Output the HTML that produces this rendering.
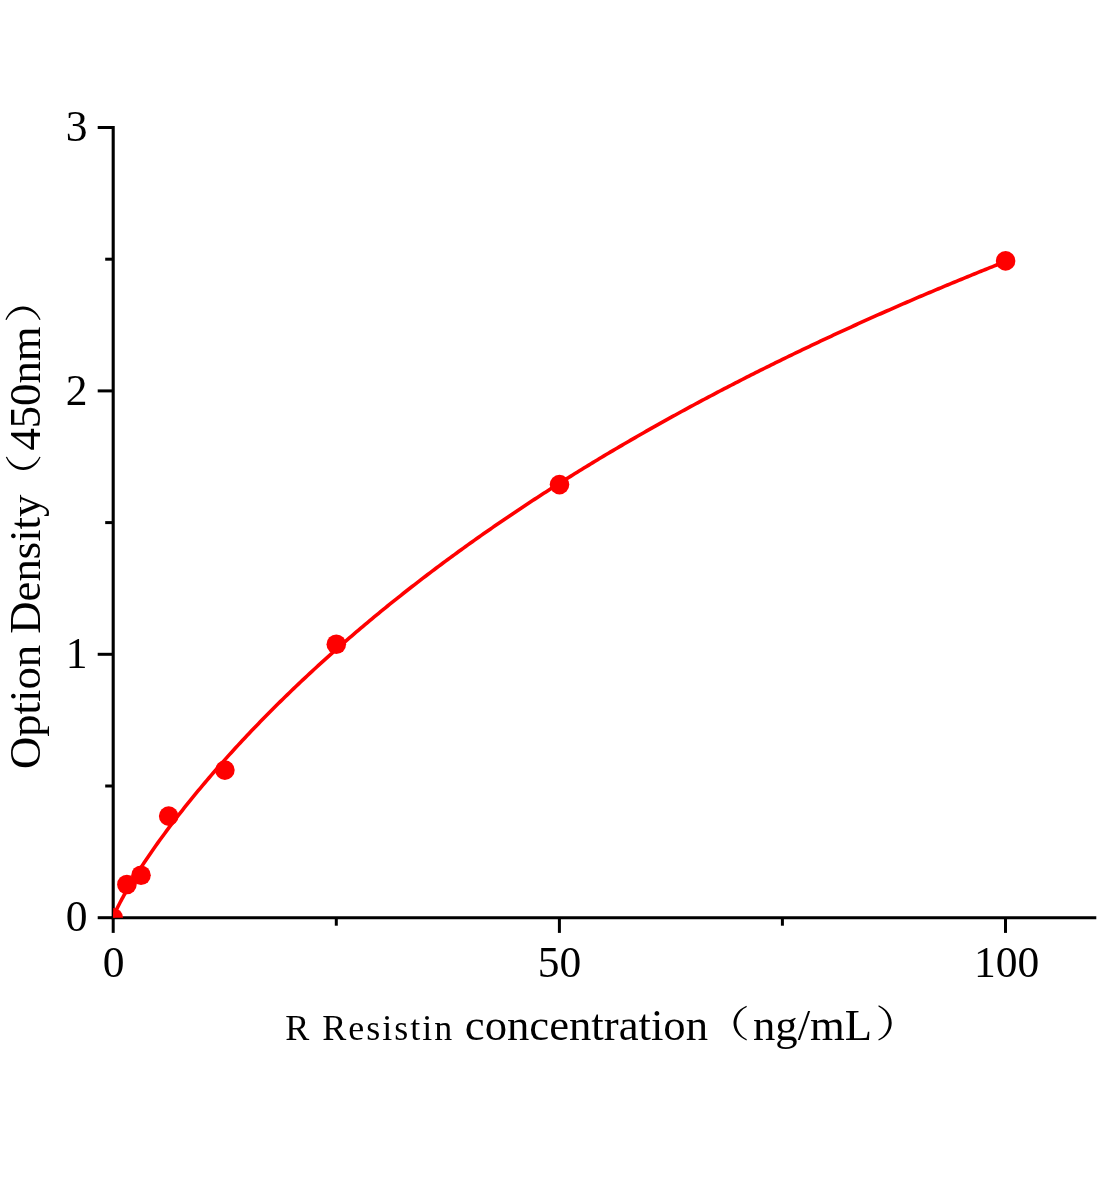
<!DOCTYPE html>
<html><head><meta charset="utf-8"><title>Standard curve</title>
<style>
html,body{margin:0;padding:0;background:#fff;}
body{width:1104px;height:1200px;overflow:hidden;font-family:"Liberation Serif",serif;}
svg{display:block;will-change:transform;}
text{font-family:"Liberation Serif",serif;fill:#000;}
</style></head><body>
<svg width="1104" height="1200" viewBox="0 0 1104 1200">
<rect width="1104" height="1200" fill="#fff"/>
<g stroke="#000" stroke-width="3.1" fill="none" stroke-linecap="butt">
<line x1="113.2" y1="126.0" x2="113.2" y2="919.2"/>
<line x1="111.7" y1="917.7" x2="1096.3" y2="917.7"/>
</g>
<g stroke="#000" stroke-width="3.0" fill="none">
<line x1="97.7" y1="917.7" x2="113.2" y2="917.7"/>
<line x1="105.2" y1="786.0" x2="113.2" y2="786.0"/>
<line x1="97.7" y1="654.3" x2="113.2" y2="654.3"/>
<line x1="105.2" y1="522.6" x2="113.2" y2="522.6"/>
<line x1="97.7" y1="390.9" x2="113.2" y2="390.9"/>
<line x1="105.2" y1="259.2" x2="113.2" y2="259.2"/>
<line x1="97.7" y1="127.5" x2="113.2" y2="127.5"/>
<line x1="113.2" y1="917.7" x2="113.2" y2="932.9"/>
<line x1="336.3" y1="917.7" x2="336.3" y2="925.7"/>
<line x1="559.4" y1="917.7" x2="559.4" y2="932.9"/>
<line x1="782.4" y1="917.7" x2="782.4" y2="925.7"/>
<line x1="1005.5" y1="917.7" x2="1005.5" y2="932.9"/>
</g>
<clipPath id="plot"><rect x="113.2" y="100" width="990" height="817.7"/></clipPath>
<g clip-path="url(#plot)">
<polyline points="113.20,917.70 114.09,915.13 114.98,912.99 115.88,911.00 116.77,909.10 117.66,907.27 118.55,905.48 119.45,903.74 120.34,902.03 121.23,900.35 122.12,898.70 123.02,897.07 123.91,895.47 124.80,893.88 125.69,892.32 126.58,890.77 127.48,889.23 128.37,887.71 129.26,886.21 130.15,884.72 131.05,883.24 133.28,879.59 135.51,876.02 137.74,872.50 139.97,869.03 142.20,865.62 144.43,862.26 146.66,858.94 148.89,855.66 151.12,852.42 153.35,849.22 155.58,846.05 157.81,842.91 160.05,839.81 162.28,836.74 164.51,833.70 166.74,830.68 168.97,827.69 171.20,824.73 173.43,821.79 175.66,818.88 177.89,815.99 180.12,813.13 182.35,810.29 184.58,807.47 186.81,804.67 189.05,801.89 191.28,799.13 193.51,796.39 195.74,793.67 197.97,790.96 200.20,788.28 202.43,785.61 204.66,782.97 206.89,780.33 209.12,777.72 211.35,775.12 213.58,772.54 215.81,769.97 218.05,767.42 220.28,764.89 222.51,762.37 224.74,759.86 226.97,757.37 229.20,754.89 231.43,752.43 233.66,749.98 235.89,747.54 238.12,745.12 240.35,742.71 242.58,740.32 244.81,737.93 247.05,735.56 249.28,733.20 251.51,730.86 253.74,728.52 255.97,726.20 258.20,723.89 260.43,721.59 262.66,719.30 264.89,717.02 267.12,714.76 269.35,712.50 271.58,710.26 273.81,708.03 276.04,705.80 278.28,703.59 280.51,701.39 282.74,699.20 284.97,697.02 287.20,694.85 289.43,692.68 291.66,690.53 293.89,688.39 296.12,686.26 298.35,684.14 300.58,682.02 302.81,679.92 305.04,677.82 307.28,675.74 309.51,673.66 311.74,671.59 313.97,669.53 316.20,667.48 318.43,665.44 320.66,663.41 322.89,661.38 325.12,659.36 327.35,657.36 329.58,655.36 331.81,653.36 334.04,651.38 336.27,649.40 338.51,647.44 340.74,645.48 342.97,643.52 345.20,641.58 347.43,639.64 349.66,637.71 351.89,635.79 354.12,633.88 356.35,631.97 358.58,630.07 360.81,628.18 363.04,626.29 365.27,624.42 367.51,622.54 369.74,620.68 371.97,618.82 374.20,616.97 376.43,615.13 378.66,613.30 380.89,611.47 383.12,609.64 385.35,607.83 387.58,606.02 389.81,604.21 392.04,602.42 394.27,600.63 396.51,598.85 398.74,597.07 400.97,595.30 403.20,593.53 405.43,591.77 407.66,590.02 409.89,588.28 412.12,586.54 414.35,584.80 416.58,583.07 418.81,581.35 421.04,579.64 423.27,577.93 425.50,576.22 427.74,574.52 429.97,572.83 432.20,571.14 434.43,569.46 436.66,567.79 438.89,566.12 441.12,564.45 443.35,562.79 445.58,561.14 447.81,559.49 450.04,557.85 452.27,556.21 454.50,554.58 456.74,552.95 458.97,551.33 461.20,549.72 463.43,548.11 465.66,546.50 467.89,544.90 470.12,543.31 472.35,541.72 474.58,540.13 476.81,538.55 479.04,536.97 481.27,535.40 483.50,533.84 485.74,532.28 487.97,530.72 490.20,529.17 492.43,527.63 494.66,526.09 496.89,524.55 499.12,523.02 501.35,521.49 503.58,519.97 505.81,518.45 508.04,516.94 510.27,515.43 512.50,513.93 514.74,512.43 516.97,510.93 519.20,509.44 521.43,507.96 523.66,506.48 525.89,505.00 528.12,503.53 530.35,502.06 532.58,500.59 534.81,499.13 537.04,497.68 539.27,496.23 541.50,494.78 543.73,493.34 545.97,491.90 548.20,490.47 550.43,489.04 552.66,487.61 554.89,486.19 557.12,484.77 559.35,483.36 561.58,481.95 563.81,480.54 566.04,479.14 568.27,477.74 570.50,476.35 572.73,474.96 574.97,473.57 577.20,472.19 579.43,470.81 581.66,469.44 583.89,468.07 586.12,466.70 588.35,465.34 590.58,463.98 592.81,462.63 595.04,461.28 597.27,459.93 599.50,458.58 601.73,457.24 603.97,455.91 606.20,454.57 608.43,453.24 610.66,451.92 612.89,450.60 615.12,449.28 617.35,447.96 619.58,446.65 621.81,445.34 624.04,444.04 626.27,442.74 628.50,441.44 630.73,440.14 632.96,438.85 635.20,437.57 637.43,436.28 639.66,435.00 641.89,433.73 644.12,432.45 646.35,431.18 648.58,429.91 650.81,428.65 653.04,427.39 655.27,426.13 657.50,424.88 659.73,423.63 661.96,422.38 664.20,421.14 666.43,419.89 668.66,418.66 670.89,417.42 673.12,416.19 675.35,414.96 677.58,413.74 679.81,412.51 682.04,411.29 684.27,410.08 686.50,408.87 688.73,407.66 690.96,406.45 693.20,405.25 695.43,404.04 697.66,402.85 699.89,401.65 702.12,400.46 704.35,399.27 706.58,398.09 708.81,396.90 711.04,395.72 713.27,394.54 715.50,393.37 717.73,392.20 719.96,391.03 722.19,389.86 724.43,388.70 726.66,387.54 728.89,386.39 731.12,385.23 733.35,384.08 735.58,382.93 737.81,381.78 740.04,380.64 742.27,379.50 744.50,378.36 746.73,377.23 748.96,376.10 751.19,374.97 753.43,373.84 755.66,372.72 757.89,371.59 760.12,370.47 762.35,369.36 764.58,368.25 766.81,367.13 769.04,366.03 771.27,364.92 773.50,363.82 775.73,362.72 777.96,361.62 780.19,360.52 782.43,359.43 784.66,358.34 786.89,357.25 789.12,356.17 791.35,355.08 793.58,354.00 795.81,352.93 798.04,351.85 800.27,350.78 802.50,349.71 804.73,348.64 806.96,347.57 809.19,346.51 811.42,345.45 813.66,344.39 815.89,343.34 818.12,342.28 820.35,341.23 822.58,340.18 824.81,339.14 827.04,338.09 829.27,337.05 831.50,336.01 833.73,334.98 835.96,333.94 838.19,332.91 840.42,331.88 842.66,330.85 844.89,329.83 847.12,328.80 849.35,327.78 851.58,326.77 853.81,325.75 856.04,324.74 858.27,323.72 860.50,322.71 862.73,321.71 864.96,320.70 867.19,319.70 869.42,318.70 871.66,317.70 873.89,316.70 876.12,315.71 878.35,314.72 880.58,313.73 882.81,312.74 885.04,311.75 887.27,310.77 889.50,309.79 891.73,308.81 893.96,307.83 896.19,306.86 898.42,305.88 900.65,304.91 902.89,303.94 905.12,302.98 907.35,302.01 909.58,301.05 911.81,300.09 914.04,299.13 916.27,298.18 918.50,297.22 920.73,296.27 922.96,295.32 925.19,294.37 927.42,293.42 929.65,292.48 931.89,291.54 934.12,290.60 936.35,289.66 938.58,288.72 940.81,287.79 943.04,286.85 945.27,285.92 947.50,284.99 949.73,284.07 951.96,283.14 954.19,282.22 956.42,281.30 958.65,280.38 960.89,279.46 963.12,278.54 965.35,277.63 967.58,276.72 969.81,275.81 972.04,274.90 974.27,274.00 976.50,273.09 978.73,272.19 980.96,271.29 983.19,270.39 985.42,269.49 987.65,268.60 989.88,267.70 992.12,266.81 994.35,265.92 996.58,265.03 998.81,264.15 1001.04,263.26 1003.27,262.38 1005.50,261.50" fill="none" stroke="#fe0000" stroke-width="3.6" stroke-linejoin="round"/>
<g fill="#fe0000">
<circle cx="113.2" cy="917.7" r="9.8"/>
<circle cx="126.9" cy="884.5" r="9.8"/>
<circle cx="141.0" cy="875.2" r="9.8"/>
<circle cx="168.7" cy="816.1" r="9.8"/>
<circle cx="224.9" cy="770.1" r="9.8"/>
<circle cx="336.3" cy="644.3" r="9.8"/>
<circle cx="559.5" cy="484.6" r="9.8"/>
<circle cx="1005.6" cy="260.9" r="9.8"/>
</g>
</g>
<text x="87.4" y="931.3" text-anchor="end" font-size="43.5">0</text>
<text x="87.4" y="667.9" text-anchor="end" font-size="43.5">1</text>
<text x="87.4" y="404.5" text-anchor="end" font-size="43.5">2</text>
<text x="87.4" y="141.1" text-anchor="end" font-size="43.5">3</text>
<text x="113.5" y="977.0" text-anchor="middle" font-size="43.5">0</text>
<text x="559.6" y="977.0" text-anchor="middle" font-size="43.5">50</text>
<text x="1006.5" y="977.0" text-anchor="middle" font-size="43.5">100</text>
<text x="285.2" y="1039.7" font-size="36" letter-spacing="2">R Resistin</text>
<text x="464.8" y="1039.7" font-size="44.7">concentration</text>
<text x="753.0" y="1039.7" font-size="44.7">ng/mL</text>
<path d="M746.50,1005.70 C729.17,1013.20 729.17,1033.00 746.50,1040.50 L746.80,1039.30 C733.03,1032.80 733.03,1013.40 746.80,1006.90 Z"/>
<path d="M878.70,1005.30 C896.03,1012.80 896.03,1033.00 878.70,1040.50 L878.40,1039.30 C892.17,1032.80 892.17,1013.00 878.40,1006.50 Z"/>
<g transform="translate(39.8,769) rotate(-90)">
<text x="0" y="0" font-size="44.7">Option Density</text>
<text x="318.4" y="0" font-size="44.7">450nm</text>
<path d="M311.90,-34.00 C294.57,-26.50 294.57,-6.70 311.90,0.80 L312.20,-0.40 C298.43,-6.90 298.43,-26.30 312.20,-32.80 Z"/>
<path d="M449.40,-34.40 C466.73,-26.90 466.73,-6.70 449.40,0.80 L449.10,-0.40 C462.87,-6.90 462.87,-26.70 449.10,-33.20 Z"/>
</g>
</svg>
</body></html>
